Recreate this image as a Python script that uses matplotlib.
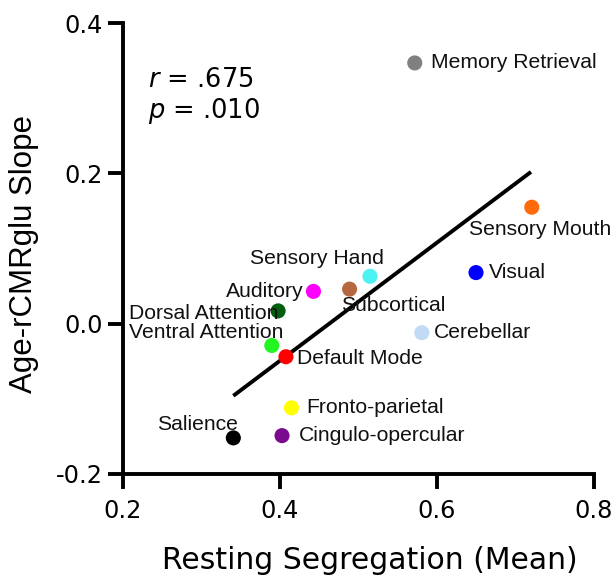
import matplotlib
matplotlib.use("Agg")
import matplotlib.pyplot as plt
import numpy as np

plt.rcParams['font.family'] = ['Liberation Sans', 'DejaVu Sans']
plt.rcParams['mathtext.fontset'] = 'custom'
plt.rcParams['mathtext.rm'] = 'DejaVu Sans'
plt.rcParams['mathtext.it'] = 'DejaVu Sans:italic'

networks = ["Memory Retrieval", "Sensory Mouth", "Visual", "Sensory Hand", "Subcortical",
            "Auditory", "Dorsal Attention", "Ventral Attention", "Default Mode", "Cerebellar",
            "Fronto-parietal", "Cingulo-opercular", "Salience"]
segregation = [0.572, 0.721, 0.650, 0.515, 0.489, 0.443, 0.398, 0.390, 0.408, 0.581, 0.415, 0.403, 0.341]
slope = [0.347, 0.155, 0.068, 0.063, 0.046, 0.043, 0.017, -0.029, -0.044, -0.012, -0.112, -0.149, -0.152]
colors = ["#808080", "#FF6A0A", "#0000FF", "#4DF3F3", "#B5683F", "#FF00FF", "#005E0C",
          "#22F522", "#FF0000", "#C3DAF4", "#FFFF00", "#7A0A8E", "#000000"]
# label offsets (points) and horizontal alignment
label_offsets = [(12, 0, 'left'), (6, -16, 'center'), (9, 0, 'left'), (10, 13, 'right'),
                 (-6, -12, 'left'), (-7, 0, 'right'), (0, -2, 'right'), (8, 9, 'right'),
                 (8, -1, 'left'), (9, 0, 'left'), (11, 0, 'left'), (12, 0, 'left'),
                 (3, 10, 'right')]

fit_x = [0.341, 0.720]
fit_y = [-0.096, 0.202]

xticks = [0.2, 0.4, 0.6, 0.8]
yticks = [-0.2, 0.0, 0.2, 0.4]

fig = plt.figure(figsize=(6.16, 5.78), dpi=100)
ax = fig.add_axes([0.199, 0.180, 0.765, 0.780])

ax.plot(fit_x, fit_y, color='black', lw=2.8, zorder=2, solid_capstyle='butt')
ax.scatter(segregation, slope, s=118, c=colors, edgecolors='none', zorder=3)

for name, x, y, (dx, dy, ha) in zip(networks, segregation, slope, label_offsets):
    ax.annotate(name, (x, y), xytext=(dx, dy), textcoords='offset points',
                ha=ha, va='center', fontsize=15.2, color='#111111', zorder=4)

ax.text(0.2318, 0.3145, r"$\mathit{r}$ = .675", fontsize=18.5, va='baseline', ha='left',
        family='DejaVu Sans')
ax.text(0.2318, 0.2736, r"$\mathit{p}$ = .010", fontsize=18.5, va='baseline', ha='left',
        family='DejaVu Sans')

ax.set_xlim(0.2, 0.8)
ax.set_ylim(-0.2, 0.4)
ax.set_xticks(xticks)
ax.set_yticks(yticks)
ax.set_xticklabels([f"{v:.1f}" for v in xticks])
ax.set_yticklabels([f"{v:.1f}" for v in yticks])
for s in ['top', 'right']:
    ax.spines[s].set_visible(False)
for s in ['left', 'bottom']:
    ax.spines[s].set_linewidth(2.8)
ax.tick_params(axis='both', width=2.8, length=11, labelsize=17.3,
               labelfontfamily='DejaVu Sans')
ax.tick_params(axis='x', pad=7)
ax.tick_params(axis='y', pad=3.5)

fig.text(370 / 616, (578 - 569) / 578, "Resting Segregation (Mean)", fontsize=21.5,
         family='DejaVu Sans', ha='center', va='baseline')
fig.text(9 / 616, (578 - 254) / 578, "Age-rCMRglu Slope", fontsize=22.5,
         rotation=90, ha='left', va='center')

fig.savefig("out.png", dpi=100)
